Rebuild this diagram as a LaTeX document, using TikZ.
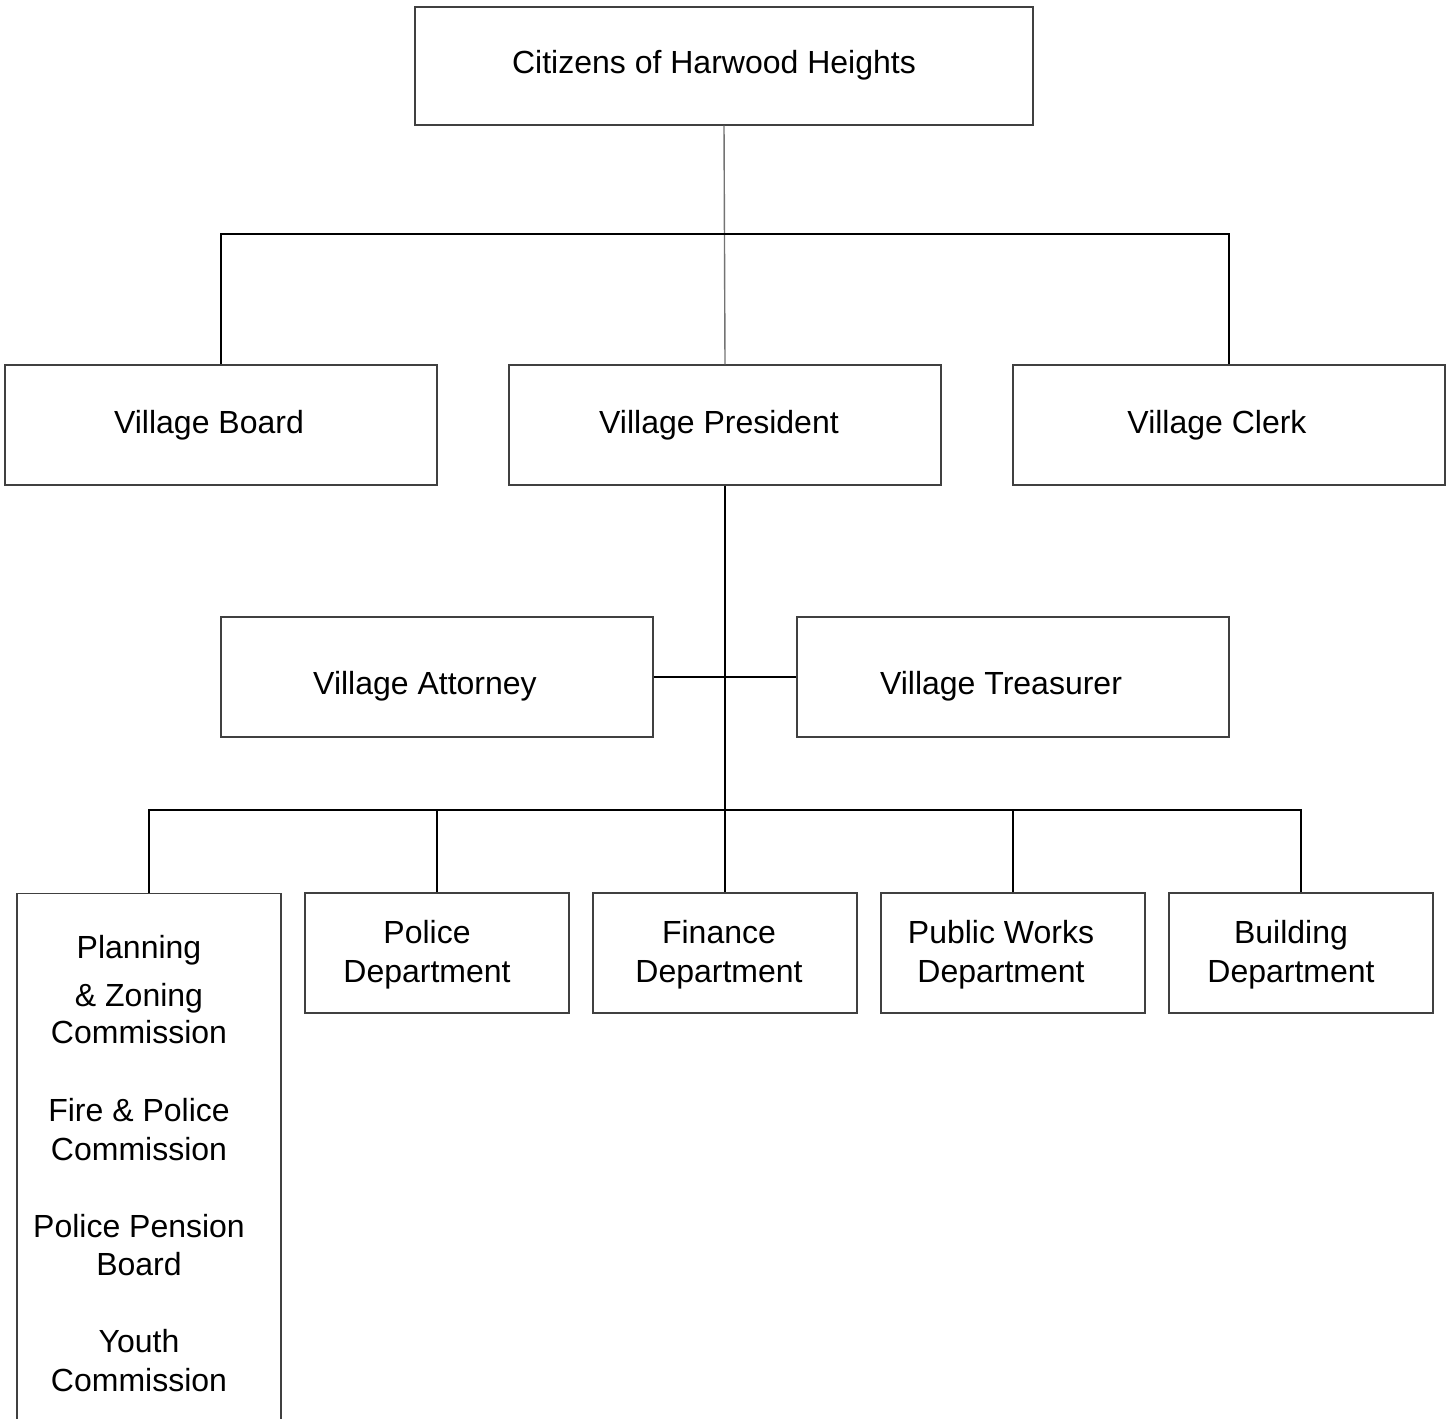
\documentclass[tikz,border=0pt]{standalone}
\usepackage{fontspec}
\setmainfont{Liberation Sans}
\usepackage{tikz}

\begin{document}
\begin{tikzpicture}[x=0.5pt,y=-0.5pt,
    box/.style={draw=black!75,line width=0.6pt,rectangle,inner sep=0pt},
    wide/.style={box,minimum width=216pt,minimum height=60pt},
    dept/.style={box,minimum width=132pt,minimum height=60pt},
    lbl/.style={align=center,inner sep=0pt,font=\fontsize{16}{19.5}\selectfont},
    link/.style={line width=1pt,black}]
  \useasboundingbox (0,0) rectangle (1454,1418);

  \node[box,minimum width=309pt,minimum height=59pt] (cit) at (724,66) {};
  \node[wide] (board) at (221,425) {};
  \node[wide] (pres) at (725,425) {};
  \node[wide] (clerk) at (1229,425) {};
  \node[wide] (att) at (437,677) {};
  \node[wide] (tre) at (1013,677) {};
  \node[dept] (pol) at (437,953) {};
  \node[dept] (fin) at (725,953) {};
  \node[dept] (pw) at (1013,953) {};
  \node[dept] (bldg) at (1301,953) {};
  \node[box,anchor=north,minimum width=132pt,minimum height=280pt] (plan) at (149,893) {};

  % texts
  \node[lbl] at ([xshift=-5pt,yshift=0.5pt]cit) {Citizens of Harwood Heights};
  \node[lbl] at ([xshift=-6pt]board) {Village Board};
  \node[lbl] at ([xshift=-3pt]pres) {Village President};
  \node[lbl] at ([xshift=-6pt]clerk) {Village Clerk};
  \node[lbl] at ([xshift=-6pt,yshift=-4.5pt]att) {Village Attorney};
  \node[lbl] at ([xshift=-6pt,yshift=-4.5pt]tre) {Village Treasurer};
  \node[lbl] at ([xshift=-5pt,yshift=-1pt]pol) {Police\\Department};
  \node[lbl] at ([xshift=-3pt,yshift=-1pt]fin) {Finance\\Department};
  \node[lbl] at ([xshift=-6pt,yshift=-1pt]pw) {Public Works\\Department};
  \node[lbl] at ([xshift=-5pt,yshift=-1pt]bldg) {Building\\Department};
  \node[lbl,anchor=north] (comm) at (139,935) {Planning\\[4.5pt]\& Zoning\\[-1pt]Commission\\[19.5pt]Fire \& Police\\Commission\\[19pt]Police Pension\\[-0.5pt]Board\\[19pt]Youth\\Commission};

  % connectors
  \coordinate (top) at (725,234);
  \coordinate (bus) at (725,810);
  \draw[black!55,line width=0.7pt] (cit.south) -- (pres.north);
  \draw[link] (board.north) |- (top) -| (clerk.north);
  \draw[link] (pres.south) -- (fin.north);
  \draw[link] (att.east) -- (tre.west);
  \draw[link] (plan.north) |- (bus) -| (bldg.north);
  \draw[link] (pol.north) -- (pol.north |- bus);
  \draw[link] (pw.north) -- (pw.north |- bus);
\end{tikzpicture}
\end{document}
